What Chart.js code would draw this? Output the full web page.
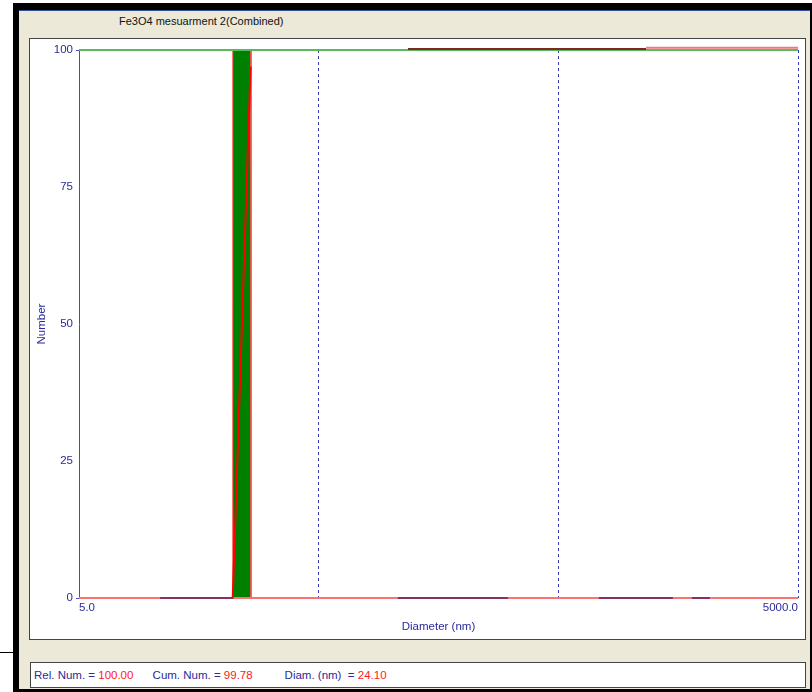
<!DOCTYPE html>
<html lang="en">
<head>
    <meta charset="UTF-8">
    <title>Fe3O4 mesuarment 2(Combined)</title>
    <script src="https://cdn.jsdelivr.net/npm/chart.js"></script>
    <style>
        body { margin: 0; background: #fff; font-family: "Liberation Sans", Arial, sans-serif; }
        #frame { position: absolute; left: 13px; top: 3px; width: 799px; height: 689px; background: #000; }
        #panel { position: absolute; left: 19px; top: 10px; width: 791px; height: 679px; background: #ECE9D8; border-top: 1px solid #3050a0; box-sizing: border-box; }
        #caption { position: absolute; left: 119px; top: 15px; font-size: 11px; color: #111; }
        #plot { position: absolute; left: 29px; top: 38px; width: 777px; height: 602px; background: #fff; border: 1px solid #444; box-sizing: border-box; }
        #chart { position: absolute; left: 30px; top: 39px; }
        #status { position: absolute; left: 30px; top: 662px; width: 776px; height: 26px; background: #fff; border: 1px solid #444; box-sizing: border-box; font-size: 11.5px; line-height: 24px; white-space: pre; padding-left: 3px; }
        #status .k { color: #2a2a9a; }
        #status .v { color: #ff2020; }
        #tick { position: absolute; left: 0; top: 652px; width: 13px; height: 1px; background: #000; }
    </style>
</head>
<body>
    <div id="frame"></div>
    <div id="panel"></div>
    <div id="tick"></div>
    <div id="caption">Fe3O4 mesuarment 2(Combined)</div>
    <div id="plot"></div>
    <canvas id="chart" width="775" height="600"></canvas>
    <div id="status"><span class="k">Rel. Num. = </span><span class="v">100.00</span><span class="k">      Cum. Num. = </span><span class="v">99.78</span><span class="k">          Diam. (nm)  = </span><span class="v">24.10</span></div>

    <script>
        // axis ranges
        const diamRange = [5, 5000];
        const decadeTicks = [5, 50, 500, 5000];
        const numberTicks = [0, 25, 50, 75, 100];

        // relative number: single size class around 24.1 nm
        const peakDiam = [21.9, 21.9, 26.1, 26.1];
        const peakRel = [0, 100, 100, 0];

        // cumulative number rising through the peak class
        const cumDiam = [21.9, 26.0];
        const cumNum = [0, 97];

        // empty size classes drawn along the baseline
        const emptyClasses = [[10.9, 22], [107, 308], [738, 1503], [1804, 2144]];

        // top traces
        const topGreenDiam = [5, 5000];
        const topDarkDiam = [118, 1161];
        const topPinkDiam = [1161, 5000];
        const topPinkNum = 100.4;

        const blue = '#2a2a9a';
        const labelFont = { family: 'Liberation Sans', size: 11.5 };

        function pts(xs, ys) {
            return xs.map((x, i) => ({ x: x, y: Array.isArray(ys) ? ys[i] : ys }));
        }

        function gapped(segs, y) {
            const out = [];
            segs.forEach(s => {
                out.push({ x: s[0], y: y }, { x: s[1], y: y }, { x: s[1] * 1.001, y: null });
            });
            return out;
        }

        const lineBase = { pointRadius: 0, tension: 0, fill: false, borderWidth: 2 };

        new Chart(document.getElementById('chart'), {
            type: 'line',
            data: {
                datasets: [
                    Object.assign({}, lineBase, {
                        data: pts(cumDiam, cumNum),
                        borderColor: '#ff0000', order: 1
                    }),
                    Object.assign({}, lineBase, {
                        data: pts(topPinkDiam, topPinkNum),
                        borderColor: '#f07878', clip: false, order: 2
                    }),
                    Object.assign({}, lineBase, {
                        data: pts(topDarkDiam, 100.2),
                        borderColor: '#7a2a20', clip: false, order: 3
                    }),
                    Object.assign({}, lineBase, {
                        data: pts(topGreenDiam, 100),
                        borderColor: '#5cb85c', clip: false, order: 4
                    }),
                    Object.assign({}, lineBase, {
                        data: gapped(emptyClasses, 0),
                        borderColor: '#8a3060', spanGaps: false, clip: false, order: 5
                    }),
                    Object.assign({}, lineBase, {
                        data: pts(diamRange, 0),
                        borderColor: '#ff7070', clip: false, order: 6
                    }),
                    {
                        data: pts(peakDiam, peakRel),
                        pointRadius: 0, tension: 0,
                        fill: 'origin',
                        backgroundColor: '#008000',
                        borderColor: '#ff5050', borderWidth: 1,
                        clip: false, order: 7
                    }
                ]
            },
            options: {
                responsive: false,
                animation: false,
                layout: { padding: { left: 0, top: 11, right: 7, bottom: 0 } },
                plugins: { legend: { display: false }, tooltip: { enabled: false } },
                scales: {
                    x: {
                        type: 'logarithmic',
                        min: diamRange[0],
                        max: diamRange[1],
                        afterBuildTicks: s => { s.ticks = decadeTicks.map(v => ({ value: v })); },
                        afterFit: s => { s.height = 41; },
                        border: { display: false, dash: [3, 3] },
                        grid: {
                            drawTicks: false,
                            lineWidth: 1,
                            color: ctx => ctx.tick && ctx.tick.value > diamRange[0] ? '#3a3ab0' : 'rgba(0,0,0,0)'
                        },
                        ticks: {
                            autoSkip: false,
                            maxRotation: 0,
                            align: 'inner',
                            padding: 3,
                            color: blue,
                            font: labelFont,
                            callback: v => v === diamRange[0] ? '5.0' : (v === diamRange[1] ? '5000.0' : '')
                        },
                        title: {
                            display: true,
                            text: 'Diameter (nm)',
                            color: blue,
                            font: labelFont,
                            padding: { top: 0, bottom: 5 }
                        }
                    },
                    y: {
                        min: 0,
                        max: 100,
                        afterBuildTicks: s => { s.ticks = numberTicks.map(v => ({ value: v })); },
                        afterFit: s => { s.width = 49; },
                        border: { display: true, color: '#4a4ab8', width: 1 },
                        grid: {
                            drawOnChartArea: false,
                            tickLength: 3,
                            color: ctx => ctx.tick && (ctx.tick.value === 0 || ctx.tick.value === 100) ? '#4a4ab8' : 'rgba(0,0,0,0)'
                        },
                        ticks: {
                            padding: 3,
                            color: blue,
                            font: labelFont
                        },
                        title: {
                            display: true,
                            text: 'Number',
                            color: blue,
                            font: labelFont,
                            padding: { top: 5, bottom: 0 }
                        }
                    }
                }
            }
        });
    </script>
</body>
</html>
